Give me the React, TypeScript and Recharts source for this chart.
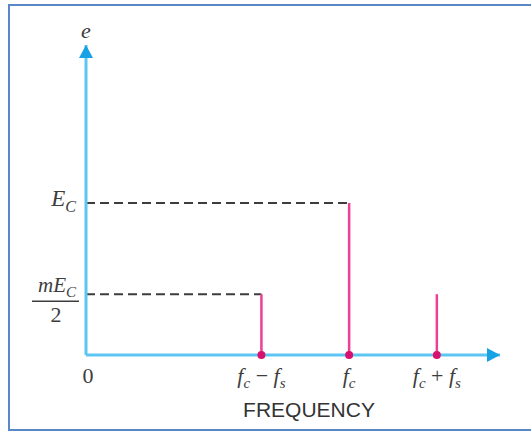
import React from 'react';
import {
  ComposedChart,
  XAxis,
  YAxis,
  Scatter,
  ReferenceLine,
  ReferenceDot
} from 'recharts';

// spectrum of an AM wave: lower sideband, carrier, upper sideband
const frequencies = [2, 3, 4];
const amplitudes = [0.4, 1, 0.4];
const showGuide = [true, true, false];
const freqTicks = [0, 2, 3, 4];
const ampTicks = [0.4, 1];
const freqTickLabels: Record<number, string[]> = {
  0: ['0'],
  2: ['f', 'c', ' − ', 'f', 's'],
  3: ['f', 'c'],
  4: ['f', 'c', ' + ', 'f', 's']
};
const X_MAX = 4.72;
const Y_MAX = 2.04;

const AXIS = '#5cc6f2';
const ARROW = '#18a2e6';
const STEM = '#ec3f98';
const DOT = '#d8106f';
const INK = '#3d3d3d';
const FRAME = '#5a88c6';
const SERIF = '"Liberation Serif", "DejaVu Serif", serif';

const FreqTick = (props: any) => {
  const { x, y, payload } = props;
  const parts = freqTickLabels[payload.value] || [String(payload.value)];
  if (parts.length === 1) {
    return (
      <text x={x + 2} y={y + 28} textAnchor="middle" fontFamily={SERIF} fontSize={22} fill={INK}>
        {parts[0]}
      </text>
    );
  }
  return (
    <text x={x} y={y + 28} textAnchor="middle" fontFamily={SERIF} fontSize={22} fill={INK}>
      <tspan fontStyle="italic">{parts[0]}</tspan>
      <tspan fontStyle="italic" fontSize={15} dy={5}>{parts[1]}</tspan>
      {parts.length > 2 && (
        <>
          <tspan dy={-5}>{parts[2]}</tspan>
          <tspan fontStyle="italic">{parts[3]}</tspan>
          <tspan fontStyle="italic" fontSize={15} dy={5}>{parts[4]}</tspan>
        </>
      )}
    </text>
  );
};

const AmpTick = (props: any) => {
  const { x, y, payload } = props;
  if (payload.value === 1) {
    return (
      <text x={x - 10} y={y + 3} textAnchor="end" fontFamily={SERIF} fontSize={23} fill={INK} fontStyle="italic">
        <tspan>E</tspan>
        <tspan fontSize={16} dy={6}>C</tspan>
      </text>
    );
  }
  return (
    <g>
      <text x={x - 29} y={y - 2} textAnchor="middle" fontFamily={SERIF} fontSize={21} fill={INK} fontStyle="italic">
        <tspan>mE</tspan>
        <tspan fontSize={15} dy={5}>C</tspan>
      </text>
      <line x1={x - 54} x2={x - 7} y1={y + 7} y2={y + 7} stroke={INK} strokeWidth={1.5} />
      <text x={x - 30} y={y + 28} textAnchor="middle" fontFamily={SERIF} fontSize={22} fill={INK}>
        2
      </text>
    </g>
  );
};

const ArrowUp = (p: any) => (
  <polygon points={`${p.cx},${p.cy} ${p.cx - 7},${p.cy + 13} ${p.cx + 7},${p.cy + 13}`} fill={ARROW} />
);

const ArrowRight = (p: any) => (
  <polygon points={`${p.cx},${p.cy} ${p.cx - 13},${p.cy - 7} ${p.cx - 13},${p.cy + 7}`} fill={ARROW} />
);

const Dot = (p: any) => <circle cx={p.cx} cy={p.cy} r={4} fill={DOT} />;

export default function App() {
  const dots = frequencies.map((f) => ({ x: f, y: 0 }));
  return (
    <div style={{ position: 'relative', width: 531, height: 432, overflow: 'hidden', background: '#fff' }}>
      <style>{'body{margin:0;overflow:hidden}'}</style>
      <svg width={531} height={432} style={{ position: 'absolute', left: 0, top: 0 }}>
        <path d="M540,5 H9 V430 H540" fill="none" stroke={FRAME} strokeWidth={2} />
      </svg>
      <div style={{ position: 'absolute', left: 0, top: 0 }}>
        <ComposedChart width={531} height={432} margin={{ top: 45, right: 31, bottom: 0, left: 10 }}>
          <XAxis
            type="number"
            dataKey="x"
            domain={[0, X_MAX]}
            ticks={freqTicks}
            interval={0}
            tickLine={false}
            tickSize={0}
            tickMargin={0}
            height={77}
            axisLine={{ stroke: AXIS, strokeWidth: 3 }}
            tick={<FreqTick />}
            label={{
              content: (p: any) => (
                <text
                  x={p.viewBox.x + 223}
                  y={p.viewBox.y + 62}
                  textAnchor="middle"
                  fontFamily='"Liberation Sans", Arial, sans-serif'
                  fontSize={21}
                  fill="#333"
                >
                  FREQUENCY
                </text>
              )
            }}
          />
          <YAxis
            type="number"
            dataKey="y"
            domain={[0, Y_MAX]}
            ticks={ampTicks}
            interval={0}
            tickLine={false}
            tickSize={0}
            tickMargin={0}
            width={76}
            axisLine={{ stroke: AXIS, strokeWidth: 3 }}
            tick={<AmpTick />}
            label={{
              content: (p: any) => (
                <text
                  x={p.viewBox.x + p.viewBox.width}
                  y={p.viewBox.y - 7}
                  textAnchor="middle"
                  fontFamily={SERIF}
                  fontStyle="italic"
                  fontSize={22}
                  fill={INK}
                >
                  e
                </text>
              )
            }}
          />
          {frequencies.map((f, i) =>
            showGuide[i] ? (
              <ReferenceLine
                key={`g${i}`}
                segment={[{ x: 0, y: amplitudes[i] }, { x: f, y: amplitudes[i] }]}
                stroke={INK}
                strokeWidth={2}
                strokeDasharray="9 5"
                ifOverflow="visible"
              />
            ) : null
          )}
          {frequencies.map((f, i) => (
            <ReferenceLine
              key={`s${i}`}
              segment={[{ x: f, y: 0 }, { x: f, y: amplitudes[i] }]}
              stroke={STEM}
              strokeWidth={2.5}
              ifOverflow="visible"
            />
          ))}
          <ReferenceDot x={0} y={Y_MAX} ifOverflow="visible" shape={ArrowUp} />
          <ReferenceDot x={X_MAX} y={0} ifOverflow="visible" shape={ArrowRight} />
          <Scatter data={dots} shape={Dot} isAnimationActive={false} />
        </ComposedChart>
      </div>
    </div>
  );
}
